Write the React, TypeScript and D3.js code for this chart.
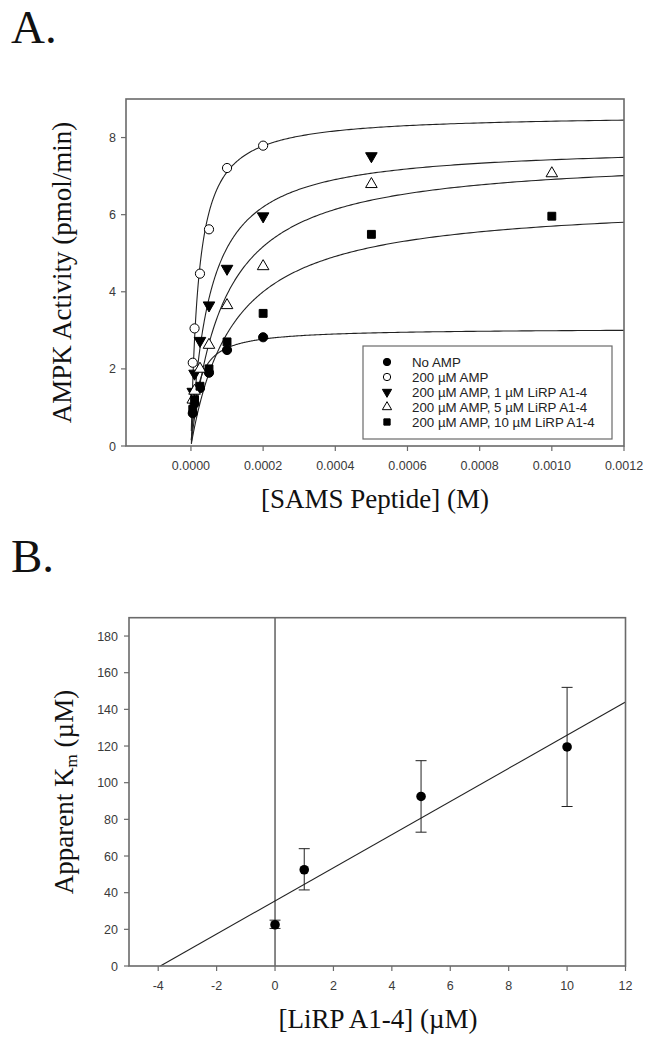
import React from 'react';
import * as d3 from 'd3';

// ---------- Panel A data ----------
const samsConc = [0.000005, 0.00001, 0.000025, 0.00005, 0.0001, 0.0002, 0.0005, 0.001];
const noAmp = [0.85, 1.1, 1.5, 1.9, 2.49, 2.82];
const amp200 = [2.16, 3.05, 4.47, 5.62, 7.21, 7.79];
const lirp1 = [1.41, 1.88, 2.73, 3.65, 4.6, 5.96, 7.52];
const lirp5 = [1.2, 1.43, 2.0, 2.62, 3.65, 4.66, 6.79, 7.07];
const lirp10 = [0.95, 1.2, 1.55, 2.0, 2.7, 3.44, 5.49, 5.96];
// fitted Michaelis-Menten parameters (Vmax pmol/min, Km M)
const fitVmax = [3.05, 8.6, 7.81, 7.55, 6.38];
const fitKm = [0.00002, 0.000021, 0.000052, 0.000092, 0.000119];
const MU = '\u00b5';
const seriesNames = [
  'No AMP',
  `200 ${MU}M AMP`,
  `200 ${MU}M AMP, 1 ${MU}M LiRP A1-4`,
  `200 ${MU}M AMP, 5 ${MU}M LiRP A1-4`,
  `200 ${MU}M AMP, 10 ${MU}M LiRP A1-4`,
];
const seriesMarkers = ['circleFilled', 'circleOpen', 'triDownFilled', 'triUpOpen', 'squareFilled'];
const aXTicks = [0, 0.0002, 0.0004, 0.0006, 0.0008, 0.001, 0.0012];
const aYTicks = [0, 2, 4, 6, 8];

// ---------- Panel B data ----------
const lirpConc = [0, 1, 5, 10];
const kmApp = [22.5, 52.5, 92.5, 119.5];
const kmLow = [20.5, 41.5, 73, 87];
const kmHigh = [25, 64, 112, 152];
const regSlope = 9.04;
const regIntercept = 35.5;
const bXTicks = [-4, -2, 0, 2, 4, 6, 8, 10, 12];
const bYTicks = [0, 20, 40, 60, 80, 100, 120, 140, 160, 180];

const serif = '"Liberation Serif", "Times New Roman", serif';
const sans = '"Liberation Sans", Arial, sans-serif';
const frameColor = '#6a6a6a';
const tickColor = '#3a3a3a';

function Marker({ type, x, y, scale = 1 }: { type: string; x: number; y: number; scale?: number }) {
  let d = '';
  let rot = 0;
  let fill = '#000';
  if (type.startsWith('circle')) d = d3.symbol(d3.symbolCircle, 66 * scale * scale)() as string;
  if (type.startsWith('tri')) d = d3.symbol(d3.symbolTriangle, 58 * scale * scale)() as string;
  if (type.startsWith('square')) d = d3.symbol(d3.symbolSquare, 62 * scale * scale)() as string;
  if (type === 'triDownFilled') rot = 180;
  if (type.endsWith('Open')) fill = '#fff';
  return (
    <path
      d={d}
      transform={`translate(${x},${y}) rotate(${rot})`}
      fill={fill}
      stroke="#000"
      strokeWidth={1}
    />
  );
}

export default function App() {
  const W = 656;
  const H = 1050;

  // Panel A scales
  const ax = d3.scaleLinear().domain([-0.00018, 0.0012]).range([126, 624]);
  const ay = d3.scaleLinear().domain([0, 9]).range([446, 99]);
  const allA = [noAmp, amp200, lirp1, lirp5, lirp10];
  const sampleS = d3.range(0, 500).map((i) => 1e-6 * Math.pow(1200, i / 499));

  // Panel B scales
  const bx = d3.scaleLinear().domain([-5, 12]).range([129, 625.5]);
  const by = d3.scaleLinear().domain([0, 190]).range([966, 617.7]);
  const regX0 = -regIntercept / regSlope;
  const regLine = d3
    .line<number>()
    .x((v) => bx(v))
    .y((v) => by(regSlope * v + regIntercept))([regX0, 12]) as string;

  const fmtA = (v: number) => v.toFixed(4);

  return (
    <svg
      width={W}
      height={H}
      style={{ position: 'absolute', left: 0, top: 0, background: '#fff' }}
    >
      <rect x={0} y={0} width={W} height={H} fill="#fff" />
      {/* Panel labels */}
      <text x={11} y={43} fontFamily={serif} fontSize={47} fill="#111">A.</text>
      <text x={11} y={572} fontFamily={serif} fontSize={47} fill="#111">B.</text>

      {/* ================= Panel A ================= */}
      <g>
        {fitVmax.map((vm, k) => {
          const km = fitKm[k];
          const d = d3
            .line<number>()
            .x((s) => ax(s))
            .y((s) => ay((vm * s) / (km + s)))(sampleS) as string;
          return <path key={'c' + k} d={d} fill="none" stroke="#222" strokeWidth={1.1} />;
        })}
        {allA.map((vals, k) =>
          vals.map((v, i) => (
            <Marker key={`p${k}-${i}`} type={seriesMarkers[k]} x={ax(samsConc[i])} y={ay(v)} />
          ))
        )}
        <rect
          x={ax.range()[0]}
          y={ay.range()[1]}
          width={ax.range()[1] - ax.range()[0]}
          height={ay.range()[0] - ay.range()[1]}
          fill="none"
          stroke={frameColor}
          strokeWidth={1.6}
        />
        {aXTicks.map((t) => (
          <g key={'ax' + t}>
            <line x1={ax(t)} x2={ax(t)} y1={446} y2={451} stroke={frameColor} strokeWidth={1.2} />
            <text
              x={ax(t)}
              y={470}
              textAnchor="middle"
              fontFamily={sans}
              fontSize={12.5}
              fill={tickColor}
            >
              {fmtA(t)}
            </text>
          </g>
        ))}
        {aYTicks.map((t) => (
          <g key={'ay' + t}>
            <line x1={121} x2={126} y1={ay(t)} y2={ay(t)} stroke={frameColor} strokeWidth={1.2} />
            <text
              x={116}
              y={ay(t)}
              dy="0.36em"
              textAnchor="end"
              fontFamily={sans}
              fontSize={12.5}
              fill={tickColor}
            >
              {t}
            </text>
          </g>
        ))}
        <text x={375} y={508} textAnchor="middle" fontFamily={serif} fontSize={27} fill="#111">
          [SAMS Peptide] (M)
        </text>
        <text
          transform={`translate(71,${(446 + 99) / 2}) rotate(-90)`}
          textAnchor="middle"
          fontFamily={serif}
          fontSize={27}
          fill="#111"
        >
          AMPK Activity (pmol/min)
        </text>
        <rect x={363} y={346} width={249} height={93} fill="#fff" stroke={frameColor} strokeWidth={1.2} />
        {seriesNames.map((name, k) => {
          const yy = 362 + k * 15;
          return (
            <g key={'lg' + k}>
              <Marker type={seriesMarkers[k]} x={387} y={yy} scale={0.8} />
              <text
                x={412}
                y={yy}
                dy="0.36em"
                fontFamily={sans}
                fontSize={13.3}
                fill="#222"
              >
                {name}
              </text>
            </g>
          );
        })}
      </g>

      {/* ================= Panel B ================= */}
      <g>
        <line x1={bx(0)} x2={bx(0)} y1={by(0)} y2={by(190)} stroke="#111" strokeWidth={1} />
        <path d={regLine} fill="none" stroke="#222" strokeWidth={1.1} />
        {lirpConc.map((c, i) => (
          <g key={'eb' + i} stroke="#222" strokeWidth={1}>
            <line x1={bx(c)} x2={bx(c)} y1={by(kmLow[i])} y2={by(kmHigh[i])} />
            <line x1={bx(c) - 5.5} x2={bx(c) + 5.5} y1={by(kmLow[i])} y2={by(kmLow[i])} />
            <line x1={bx(c) - 5.5} x2={bx(c) + 5.5} y1={by(kmHigh[i])} y2={by(kmHigh[i])} />
          </g>
        ))}
        {lirpConc.map((c, i) => (
          <circle key={'bp' + i} cx={bx(c)} cy={by(kmApp[i])} r={4.8} fill="#000" />
        ))}
        <rect
          x={bx.range()[0]}
          y={by.range()[1]}
          width={bx.range()[1] - bx.range()[0]}
          height={by.range()[0] - by.range()[1]}
          fill="none"
          stroke={frameColor}
          strokeWidth={1.6}
        />
        {bXTicks.map((t) => (
          <g key={'bx' + t}>
            <line x1={bx(t)} x2={bx(t)} y1={966} y2={971} stroke={frameColor} strokeWidth={1.2} />
            <text
              x={bx(t)}
              y={990}
              textAnchor="middle"
              fontFamily={sans}
              fontSize={12.5}
              fill={tickColor}
            >
              {t < 0 ? '-' + Math.abs(t) : t}
            </text>
          </g>
        ))}
        {bYTicks.map((t) => (
          <g key={'by' + t}>
            <line x1={124} x2={129} y1={by(t)} y2={by(t)} stroke={frameColor} strokeWidth={1.2} />
            <text
              x={118}
              y={by(t)}
              dy="0.36em"
              textAnchor="end"
              fontFamily={sans}
              fontSize={12.5}
              fill={tickColor}
            >
              {t}
            </text>
          </g>
        ))}
        <text x={378} y={1028} textAnchor="middle" fontFamily={serif} fontSize={27} fill="#111">
          {`[LiRP A1-4] (${MU}M)`}
        </text>
        <text
          transform={`translate(73,${(966 + 618) / 2}) rotate(-90)`}
          textAnchor="middle"
          fontFamily={serif}
          fontSize={27}
          fill="#111"
        >
          Apparent K
          <tspan fontSize={17} dy={4}>m</tspan>
          <tspan dy={-4}>{` (${MU}M)`}</tspan>
        </text>
      </g>
    </svg>
  );
}
